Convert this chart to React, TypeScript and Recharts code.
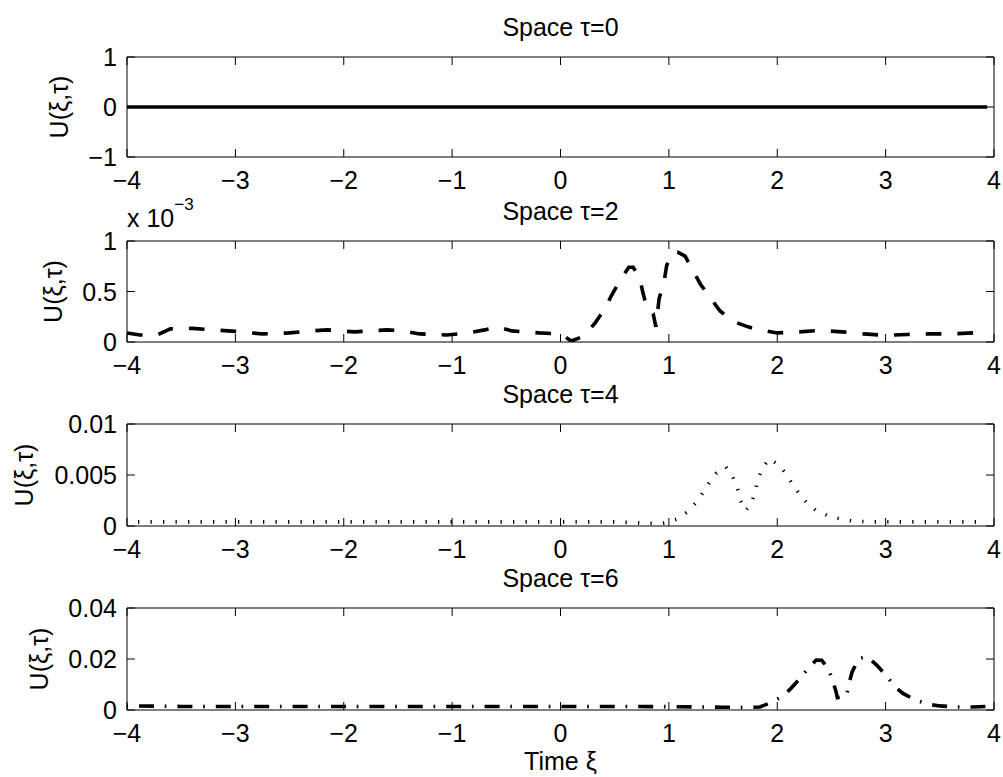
import React from 'react';
import { LineChart, Line, XAxis, YAxis } from 'recharts';

// ---------- data ----------
const xTicks = [-4, -3, -2, -1, 0, 1, 2, 3, 4];

// tau = 0
const xi0 = [-4, -3, -2, -1, 0, 1, 2, 3, 3.9375];
const u0 = [0, 0, 0, 0, 0, 0, 0, 0, 0];

// tau = 2 (values in units of 1e-3)
const xi2 = [-4, -3.88, -3.72, -3.6, -3.4, -3.2, -3.0, -2.75, -2.5, -2.3, -2.15, -1.9, -1.6, -1.45, -1.3, -1.05, -0.85, -0.7, -0.58, -0.45, -0.2, 0.0, 0.1, 0.22, 0.32, 0.41, 0.47, 0.55, 0.63, 0.67, 0.73, 0.76, 0.8, 0.855, 0.88, 0.91, 0.955, 0.98, 1.04, 1.08, 1.15, 1.22, 1.29, 1.38, 1.47, 1.58, 1.73, 1.84, 2.0, 2.2, 2.4, 2.6, 2.8, 3.0, 3.2, 3.4, 3.6, 3.8, 3.9375];
const u2e3 = [0.09, 0.07, 0.07, 0.13, 0.135, 0.12, 0.105, 0.08, 0.09, 0.11, 0.12, 0.1, 0.12, 0.11, 0.08, 0.07, 0.09, 0.12, 0.15, 0.11, 0.09, 0.08, 0.01, 0.06, 0.19, 0.33, 0.46, 0.61, 0.74, 0.74, 0.64, 0.49, 0.33, 0.28, 0.15, 0.43, 0.59, 0.76, 0.89, 0.89, 0.85, 0.71, 0.575, 0.44, 0.31, 0.21, 0.15, 0.12, 0.09, 0.1, 0.115, 0.1, 0.08, 0.065, 0.075, 0.08, 0.08, 0.09, 0.1];

// tau = 4
const xi4 = [-4, -3.5, -3, -2.5, -2, -1.5, -1, -0.5, 0, 0.5, 0.85, 0.95, 1.09, 1.17, 1.25, 1.31, 1.37, 1.44, 1.525, 1.59, 1.633, 1.66, 1.706, 1.76, 1.793, 1.818, 1.86, 1.925, 2.014, 2.08, 2.14, 2.208, 2.279, 2.36, 2.47, 2.58, 2.69, 2.85, 3.0, 3.5, 3.9375];
const u4 = [0.0004, 0.0004, 0.0004, 0.0004, 0.0004, 0.0004, 0.0004, 0.0004, 0.0004, 0.0004, 0.00025, 0.0003, 0.0007, 0.0014, 0.0023, 0.0032, 0.0042, 0.0052, 0.0058, 0.0048, 0.0037, 0.0025, 0.0015, 0.0021, 0.0033, 0.0044, 0.0056, 0.0066, 0.006, 0.0051, 0.0041, 0.0031, 0.0022, 0.0015, 0.001, 0.0007, 0.0005, 0.0004, 0.0004, 0.0004, 0.0004];

// tau = 6
const xi6 = [-4, -3.5, -3, -2.5, -2, -1.5, -1, -0.5, 0, 0.5, 1, 1.5, 1.75, 1.84, 1.95, 2.04, 2.12, 2.22, 2.285, 2.36, 2.41, 2.47, 2.506, 2.54, 2.555, 2.64, 2.66, 2.69, 2.75, 2.83, 2.92, 3.02, 3.08, 3.16, 3.28, 3.4, 3.5, 3.64, 3.8, 3.9375];
const u6 = [0.0016, 0.0014, 0.0014, 0.0014, 0.0014, 0.0014, 0.0014, 0.0014, 0.0014, 0.0014, 0.0013, 0.0011, 0.001, 0.0012, 0.003, 0.0052, 0.0082, 0.0128, 0.0164, 0.0196, 0.0195, 0.0164, 0.0122, 0.0076, 0.0048, 0.0055, 0.0102, 0.0148, 0.0201, 0.021, 0.0175, 0.0128, 0.0093, 0.0065, 0.0038, 0.0022, 0.0016, 0.0012, 0.0012, 0.0014];

const yTicks0 = [-1, 0, 1];
const yTicks2 = [0, 0.5, 1];
const yTicks4 = [0, 0.005, 0.01];
const yTicks6 = [0, 0.02, 0.04];

const titles = ['Space \u03c4=0', 'Space \u03c4=2', 'Space \u03c4=4', 'Space \u03c4=6'];
const yLabel = 'U(\u03be,\u03c4)';
const xLabel = 'Time \u03be';

// ---------- layout ----------
const W = 1003;
const LEFT = 127;
const RIGHT = 994;
const MT = 50;
const MB = 70;
const FONT = 'Liberation Sans, Arial, Helvetica, sans-serif';
const FS = 25;
const TL = 8;

const fmt = (v: number) => (v < 0 ? '\u2212' + String(Math.abs(v)) : String(v));

const BottomTick = (p: any) => (
  <g>
    <line x1={p.x} x2={p.x} y1={p.y} y2={p.y - TL} stroke="#000" strokeWidth={1} />
    <text x={p.x} y={p.y + 32} textAnchor="middle" fontSize={FS} fontFamily={FONT} fill="#000">
      {fmt(p.payload.value)}
    </text>
  </g>
);
const TopTick = (p: any) => (
  <line x1={p.x} x2={p.x} y1={p.y} y2={p.y + TL} stroke="#000" strokeWidth={1} />
);
const LeftTick = (p: any) => (
  <g>
    <line x1={p.x} x2={p.x + TL} y1={p.y} y2={p.y} stroke="#000" strokeWidth={1} />
    <text x={p.x - 10} y={p.y + 9} textAnchor="end" fontSize={FS} fontFamily={FONT} fill="#000">
      {fmt(p.payload.value)}
    </text>
  </g>
);
const RightTick = (p: any) => (
  <line x1={p.x} x2={p.x - TL} y1={p.y} y2={p.y} stroke="#000" strokeWidth={1} />
);

type Panel = {
  top: number;
  h: number;
  xs: number[];
  us: number[];
  domain: [number, number];
  ticks: number[];
  dash?: string;
  dashOffset?: number;
  title: string;
  yLabelX: number;
  exponent?: boolean;
  xLabel?: boolean;
};

const panels: Panel[] = [
  { top: 57, h: 100, xs: xi0, us: u0, domain: [-1, 1], ticks: yTicks0, title: titles[0], yLabelX: 68 },
  { top: 241, h: 101, xs: xi2, us: u2e3, domain: [0, 1], ticks: yTicks2, dash: '15.7 16', title: titles[1], yLabelX: 62, exponent: true },
  { top: 424, h: 102, xs: xi4, us: u4, domain: [0, 0.01], ticks: yTicks4, dash: '1.3 11.2', dashOffset: 1.5, title: titles[2], yLabelX: 33 },
  { top: 608, h: 102, xs: xi6, us: u6, domain: [0, 0.04], ticks: yTicks6, dash: '15 10.7 1.7 11', dashOffset: 26.4, title: titles[3], yLabelX: 48, xLabel: true },
];

function PanelChart({ p }: { p: Panel }) {
  const data = p.xs.map((x, i) => ({ x, u: p.us[i] }));
  const cx = (LEFT + RIGHT) / 2;
  const titleLabel = () => (
    <g>
      <text x={cx} y={MT - 21} textAnchor="middle" fontSize={FS} fontFamily={FONT} fill="#000">
        {p.title}
      </text>
      {p.exponent ? (
        <text x={LEFT} y={MT - 14} textAnchor="start" fontSize={FS} fontFamily={FONT} fill="#000">
          x 10
          <tspan dy={-17} fontSize={17}>{'\u22123'}</tspan>
        </text>
      ) : null}
    </g>
  );
  const yLab = () => {
    const cy = MT + p.h / 2;
    return (
      <text
        x={p.yLabelX}
        y={cy}
        transform={`rotate(-90, ${p.yLabelX}, ${cy})`}
        textAnchor="middle"
        fontSize={FS}
        fontFamily={FONT}
        fill="#000"
      >
        {yLabel}
      </text>
    );
  };
  const xLab = () => (
    <text x={cx} y={MT + p.h + 60} textAnchor="middle" fontSize={FS} fontFamily={FONT} fill="#000">
      {xLabel}
    </text>
  );
  return (
    <div style={{ position: 'absolute', left: 0, top: p.top - MT }}>
      <LineChart
        width={W}
        height={MT + p.h + MB}
        data={data}
        margin={{ top: MT - 1, right: W - RIGHT - 1, bottom: MB - 1, left: LEFT - 1 }}
      >
        <XAxis
          xAxisId="b"
          dataKey="x"
          type="number"
          domain={[-4, 4]}
          ticks={xTicks}
          interval={0}
          orientation="bottom"
          height={1}
          tickSize={0}
          tickMargin={0}
          tick={<BottomTick />}
          axisLine={{ stroke: '#000', strokeWidth: 1 }}
          tickLine={false}
          label={p.xLabel ? xLab : undefined}
        />
        <XAxis
          xAxisId="t"
          dataKey="x"
          type="number"
          domain={[-4, 4]}
          ticks={xTicks}
          interval={0}
          orientation="top"
          height={1}
          tickSize={0}
          tickMargin={0}
          tick={<TopTick />}
          axisLine={{ stroke: '#000', strokeWidth: 1 }}
          tickLine={false}
          label={titleLabel}
        />
        <YAxis
          yAxisId="l"
          dataKey="u"
          type="number"
          domain={p.domain}
          ticks={p.ticks}
          interval={0}
          orientation="left"
          width={1}
          tickSize={0}
          tickMargin={0}
          tick={<LeftTick />}
          axisLine={{ stroke: '#000', strokeWidth: 1 }}
          tickLine={false}
          allowDataOverflow
          label={yLab}
        />
        <YAxis
          yAxisId="r"
          dataKey="u"
          type="number"
          domain={p.domain}
          ticks={p.ticks}
          interval={0}
          orientation="right"
          width={1}
          tickSize={0}
          tickMargin={0}
          tick={<RightTick />}
          axisLine={{ stroke: '#000', strokeWidth: 1 }}
          tickLine={false}
          allowDataOverflow
        />
        <Line
          xAxisId="b"
          yAxisId="l"
          type="linear"
          dataKey="u"
          stroke="#000"
          strokeWidth={3.6}
          strokeDasharray={p.dash}
          strokeDashoffset={p.dashOffset}
          dot={false}
          activeDot={false}
          isAnimationActive={false}
        />
      </LineChart>
    </div>
  );
}

export default function App() {
  return (
    <div style={{ position: 'absolute', left: 0, top: 0, width: W, height: 777, background: '#fff' }}>
      {panels.map((p, i) => (
        <PanelChart key={i} p={p} />
      ))}
    </div>
  );
}
